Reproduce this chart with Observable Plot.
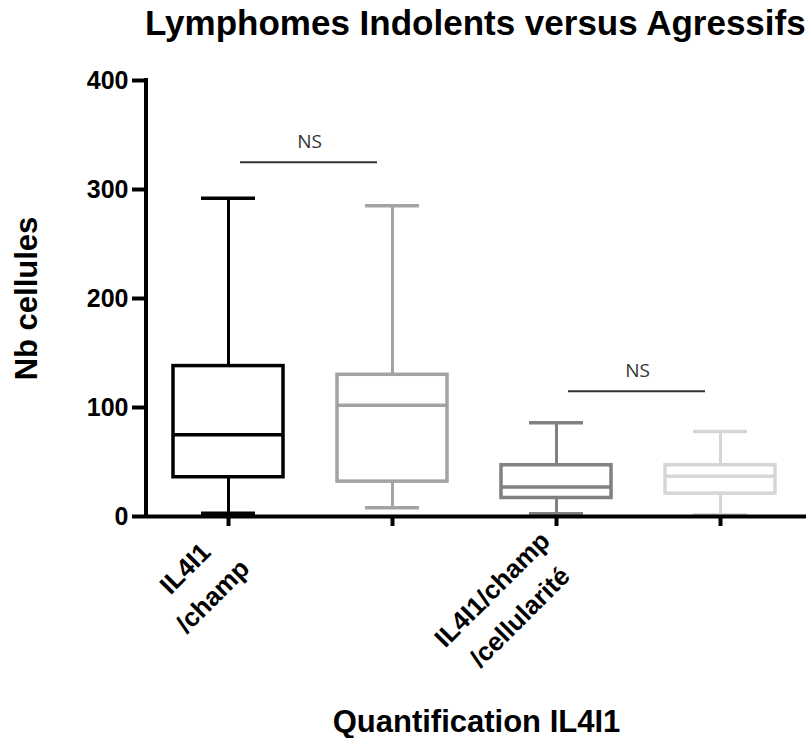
<!DOCTYPE html>
<html><head><meta charset="utf-8">
<script src="https://cdn.jsdelivr.net/npm/d3@7"></script>
<script src="https://cdn.jsdelivr.net/npm/@observablehq/plot@0.6"></script>
<style>
body{margin:0;background:#fff;font-family:"Liberation Sans",Arial,sans-serif;}
#title{height:46px;line-height:46px;font-size:35px;font-weight:bold;padding-left:145px;white-space:nowrap;color:#000;}
</style></head><body>
<div id="title">Lymphomes Indolents versus Agressifs</div>
<div id="chart"></div>
<script>
// categories (quantification x lymphoma type)
const groups = ["IL4I1/champ – Indolents", "IL4I1/champ – Agressifs", "IL4I1/champ/cellularité – Indolents", "IL4I1/champ/cellularité – Agressifs"];
const colors = ["#000000", "#a3a3a3", "#808080", "#d6d6d6"];
// box statistics (Nb cellules)
const mins    = [3, 8, 2.5, 1.5];
const q1s     = [36, 32, 17, 21];
const medians = [75, 102, 27, 37];
const q3s     = [138, 130, 47, 47];
const maxs    = [292, 285, 86, 78];
// tick labels
const labelGroups = [groups[0], groups[2]];
const labelTexts = ["IL4I1\n/champ", "IL4I1/champ\n/cellularité"];
const yTicks = [0, 100, 200, 300, 400];
// significance brackets
const bracketFrom = [groups[0], groups[2]];
const bracketTo = [groups[1], groups[3]];
const bracketY = [325, 115];
const bracketLabel = ["NS", "NS"];

const data = groups.map((g, i) => ({g, color: colors[i], min: mins[i], q1: q1s[i], median: medians[i], q3: q3s[i], max: maxs[i]}));
const brackets = bracketFrom.map((f, i) => ({from: f, to: bracketTo[i], y: bracketY[i], label: bracketLabel[i]}));

const FONT = "Liberation Sans, Arial, sans-serif";
const ctx = document.createElement("canvas").getContext("2d");
ctx.font = "bold 26px 'Liberation Sans', Arial, sans-serif";
const blockWidth = s => Math.max(...s.split("\n").map(l => ctx.measureText(l).width));

const labelMarks = labelGroups.map((g, i) => {
  const h = blockWidth(labelTexts[i]) / 2 * Math.SQRT1_2;
  return Plot.text([g], {x: d => d, text: () => labelTexts[i], frameAnchor: "bottom", rotate: -45,
    textAnchor: "middle", lineAnchor: "middle", lineHeight: 1.5, fontSize: 26, fontWeight: "bold",
    fontFamily: FONT, fill: "#000", dx: -h, dy: 31 + h});
});

const yAxisLine = (index, scales, values, dims) => {
  const l = document.createElementNS("http://www.w3.org/2000/svg", "line");
  l.setAttribute("x1", dims.marginLeft); l.setAttribute("x2", dims.marginLeft);
  l.setAttribute("y1", scales.y(yTicks[yTicks.length - 1]) - 2); l.setAttribute("y2", scales.y(0));
  l.setAttribute("stroke", "#000"); l.setAttribute("stroke-width", 4);
  return l;
};

const chart = Plot.plot({
  width: 806, height: 692,
  marginLeft: 146, marginRight: 0, marginTop: 34, marginBottom: 222,
  style: {fontFamily: FONT, fontWeight: "bold", color: "#000", background: "#fff"},
  x: {type: "band", domain: groups, range: [146, 802], padding: 0, axis: null},
  y: {domain: [0, 400], axis: null},
  color: {type: "identity"},
  marks: [
    Plot.ruleX(data, {x: "g", y1: "min", y2: "max", stroke: "color", strokeWidth: 3}),
    Plot.barY(data, {x: "g", y1: "q1", y2: "q3", fill: "#fff", stroke: "color", strokeWidth: 3.5, insetLeft: 27, insetRight: 27}),
    Plot.tickY(data, {x: "g", y: "median", stroke: "color", strokeWidth: 3.5, insetLeft: 27, insetRight: 27}),
    Plot.tickY(data, {x: "g", y: "max", stroke: "color", strokeWidth: 3.5, insetLeft: 55, insetRight: 55}),
    Plot.tickY(data, {x: "g", y: "min", stroke: "color", strokeWidth: 3.5, insetLeft: 55, insetRight: 55}),
    Plot.ruleY(brackets, {x1: "from", x2: "to", y: "y", stroke: "#333", strokeWidth: 2, insetLeft: 94, insetRight: 97}),
    Plot.text(brackets, {x: "from", y: "y", text: "label", dx: 81, dy: -20, fontFamily: "Open Sans", fontSize: 19, fontWeight: "normal", fill: "#333"}),
    Plot.ruleY([0], {stroke: "#000", strokeWidth: 4}),
    yAxisLine,
    Plot.axisY({ticks: yTicks, tickSize: 14, tickPadding: 4, strokeWidth: 4, fontSize: 25, fontWeight: "bold", label: null}),
    Plot.axisX({tickSize: 10, strokeWidth: 4, tickFormat: () => "", label: null}),
    ...labelMarks,
    Plot.text(["Nb cellules"], {text: d => d, frameAnchor: "left", textAnchor: "middle", lineAnchor: "middle", rotate: -90, dx: -119, fontSize: 31, fontWeight: "bold", fill: "#000"}),
    Plot.text(["Quantification IL4I1"], {text: d => d, frameAnchor: "bottom", textAnchor: "middle", lineAnchor: "bottom", dy: 215, fontSize: 31, fontWeight: "bold", fill: "#000"})
  ]
});
document.getElementById("chart").appendChild(chart);
</script>
</body></html>
